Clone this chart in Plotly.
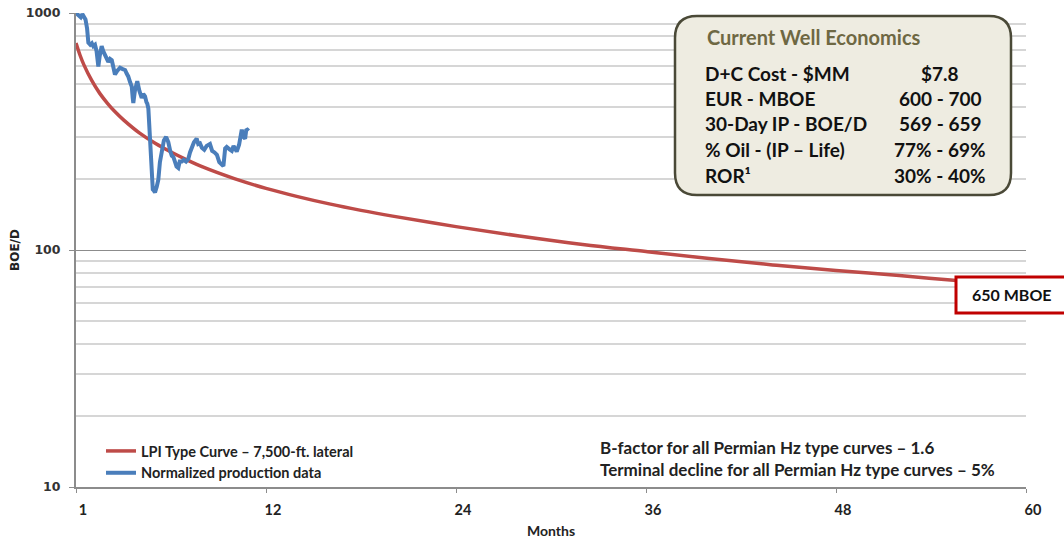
import plotly.graph_objects as go

# LPI type curve (BOE/D by month)
type_curve_months = [0, 0.25, 0.5, 1, 1.5, 2, 2.5, 3, 4, 5, 6, 7, 8, 10, 12, 14, 16, 18,
                     20, 24, 28, 32, 36, 40, 44, 48, 52, 56, 60]
type_curve_boed = [747, 665, 604, 518, 458, 415, 381, 354, 312, 282, 259, 240, 224, 200,
                   182, 168, 156.5, 147, 139, 125.5, 114.5, 105.5, 98.5, 92, 86.5, 82,
                   78, 74, 71]

# Normalized production data (BOE/D by month)
prod_months = [0.0, 0.15, 0.3, 0.4, 0.5, 0.6, 0.7, 0.78, 0.9, 1.0, 1.09, 1.2, 1.3, 1.41,
               1.5, 1.62, 1.72, 1.83, 1.95, 2.04, 2.15, 2.26, 2.36, 2.46, 2.6, 2.78, 2.95,
               3.1, 3.2, 3.3, 3.42, 3.52, 3.58, 3.62, 3.72, 3.87, 4.0, 4.15, 4.25, 4.36,
               4.45, 4.5, 4.57, 4.62, 4.67, 4.75, 4.85, 4.92, 4.99, 5.1, 5.2, 5.3, 5.41,
               5.55, 5.69, 5.83, 5.95, 6.05, 6.15, 6.25, 6.35, 6.46, 6.55, 6.68, 6.8, 6.95,
               7.09, 7.2, 7.31, 7.45, 7.62, 7.72, 7.83, 7.95, 8.1, 8.25, 8.46, 8.6, 8.75,
               8.9, 9.05, 9.2, 9.31, 9.42, 9.52, 9.7, 9.84, 9.95, 10.05, 10.15, 10.3, 10.38,
               10.47, 10.58, 10.68, 10.75, 10.82, 10.9]
prod_boed = [1000, 985, 960, 990, 955, 940, 860, 750, 735, 745, 725, 735, 690, 595,
             660, 725, 690, 660, 640, 622, 640, 632, 590, 550, 570, 588, 580,
             575, 555, 540, 510, 490, 440, 417, 470, 515, 470, 438, 455, 445,
             420, 415, 395, 330, 290, 220, 180, 178, 175, 185, 198, 235, 265,
             290, 300, 285, 262, 250, 247, 232, 225, 222, 236, 236, 240, 236,
             242, 258, 272, 285, 295, 280, 282, 270, 265, 275, 280, 262, 258,
             252, 235, 230, 226, 268, 272, 266, 262, 275, 268, 260, 278, 310,
             322, 300, 295, 320, 322, 318]

x_tick_vals = [0, 12, 24, 36, 48, 60]
x_tick_text = ["1", "12", "24", "36", "48", "60"]
y_tick_vals = [10, 100, 1000]
y_tick_text = ["10", "100", "1000"]
y_minor_vals = [20, 30, 40, 50, 60, 70, 80, 90, 200, 300, 400, 500, 600, 700, 800, 900]

econ_rows = ["D+C Cost - $MM", "EUR - MBOE", "30-Day IP - BOE/D", "% Oil - (IP \u2013 Life)", "ROR\u00b9"]
econ_vals = ["$7.8", "600 - 700", "569 - 659", "77% - 69%", "30% - 40%"]

W, H = 1064, 543
L, R, T, B = 76, 38, 13, 56
PW, PH = W - L - R, H - T - B


def px(x):
    return (x - L) / PW


def py(y):
    return (H - B - y) / PH


fig = go.Figure()
fig.add_trace(go.Scatter(
    x=type_curve_months, y=type_curve_boed, mode="lines", line_shape="spline",
    name="LPI Type Curve \u2013 7,500-ft. lateral",
    line=dict(color="#BE4B48", width=3.5),
))
fig.add_trace(go.Scatter(
    x=prod_months, y=prod_boed, mode="lines",
    name="Normalized production data",
    line=dict(color="#4A7EBB", width=4),
))

calibri = "Lato, 'Open Sans', sans-serif"

fig.update_layout(
    width=W, height=H,
    margin=dict(l=L, r=R, t=T, b=B, autoexpand=False),
    paper_bgcolor="white", plot_bgcolor="white",
    font=dict(family=calibri, color="#222222"),
    showlegend=True,
    legend=dict(
        x=px(101), y=py(435), xanchor="left", yanchor="top",
        bgcolor="rgba(0,0,0,0)", borderwidth=0,
        font=dict(family=calibri, size=14.5, color="#222222", weight="bold"),
        tracegroupgap=0, itemwidth=30,
    ),
    xaxis=dict(
        range=[0, 60], tickmode="array", tickvals=x_tick_vals, ticktext=x_tick_text,
        showgrid=False, zeroline=False, automargin=False,
        showline=True, linecolor="#8C8C8C", linewidth=2,
        ticks="outside", ticklen=4, tickcolor="#8C8C8C", tickwidth=1,
        tickfont=dict(family=calibri, size=14.5, color="#222222", weight="bold"),
        ticklabelshift=7, ticklabelstandoff=5,
        title=dict(text="Months", font=dict(family=calibri, size=14, color="#222222", weight="bold"),
                   standoff=9),
    ),
    yaxis=dict(
        type="log", range=[1, 3], tickmode="array", tickvals=y_tick_vals, ticktext=y_tick_text,
        showgrid=True, gridcolor="#8C8C8C", gridwidth=1, automargin=False,
        zeroline=False, showline=True, linecolor="#8C8C8C", linewidth=2,
        ticks="outside", ticklen=5, tickcolor="#8C8C8C", tickwidth=1,
        tickfont=dict(family="DejaVu Sans", size=12.5, color="#333333", weight="bold"),
        ticklabelstandoff=6,
        minor=dict(tickmode="array", tickvals=y_minor_vals, showgrid=True,
                   gridcolor="#D6D6D6", gridwidth=1.5, ticks=""),
        title=dict(text="BOE/D", font=dict(family="DejaVu Sans", size=12, color="#222222", weight="bold"),
                   standoff=4),
    ),
)

# Rounded economics panel
bx0, bx1, by0, by1, rad = 675, 1011, 16, 195, 22


def rounded_path(x0, x1, y0, y1, r):
    return (
        f"M {px(x0 + r)} {py(y0)} L {px(x1 - r)} {py(y0)} "
        f"Q {px(x1)} {py(y0)} {px(x1)} {py(y0 + r)} "
        f"L {px(x1)} {py(y1 - r)} Q {px(x1)} {py(y1)} {px(x1 - r)} {py(y1)} "
        f"L {px(x0 + r)} {py(y1)} Q {px(x0)} {py(y1)} {px(x0)} {py(y1 - r)} "
        f"L {px(x0)} {py(y0 + r)} Q {px(x0)} {py(y0)} {px(x0 + r)} {py(y0)} Z"
    )


fig.add_shape(type="path", path=rounded_path(bx0, bx1, by0, by1, rad),
              xref="paper", yref="paper", layer="above",
              fillcolor="#EEECE1", line=dict(color="#4A4937", width=2.5))

fig.add_annotation(text="Current Well Economics", x=px(705), y=py(37), xref="paper", yref="paper",
                   xanchor="left", yanchor="middle", showarrow=False,
                   font=dict(family=calibri, size=20, color="#6E6843", weight="bold"))
row_y = [73, 98, 123, 149, 175]
for label, val, yy in zip(econ_rows, econ_vals, row_y):
    fig.add_annotation(text=label, x=px(703), y=py(yy), xref="paper", yref="paper",
                       xanchor="left", yanchor="middle", showarrow=False,
                       font=dict(family=calibri, size=19, color="#111111", weight="bold"))
    fig.add_annotation(text=val, x=px(940), y=py(yy), xref="paper", yref="paper",
                       xanchor="center", yanchor="middle", showarrow=False,
                       font=dict(family=calibri, size=19, color="#111111", weight="bold"))

# EUR callout
fig.add_shape(type="rect", x0=px(956), x1=px(1075), y0=py(277), y1=py(313),
              xref="paper", yref="paper", layer="above",
              fillcolor="white", line=dict(color="#C00000", width=3))
fig.add_annotation(text="650 MBOE", x=px(1012), y=py(294), xref="paper", yref="paper",
                   xanchor="center", yanchor="middle", showarrow=False,
                   font=dict(family=calibri, size=16, color="#111111", weight="bold"))

# Footnotes
fig.add_annotation(text="B-factor for all Permian Hz type curves \u2013 1.6",
                   x=px(598), y=py(447), xref="paper", yref="paper",
                   xanchor="left", yanchor="middle", showarrow=False,
                   font=dict(family=calibri, size=17, color="#222222", weight="bold"))
fig.add_annotation(text="Terminal decline for all Permian Hz type curves \u2013 5%",
                   x=px(598), y=py(469), xref="paper", yref="paper",
                   xanchor="left", yanchor="middle", showarrow=False,
                   font=dict(family=calibri, size=17, color="#222222", weight="bold"))

fig.write_html("out.html")
